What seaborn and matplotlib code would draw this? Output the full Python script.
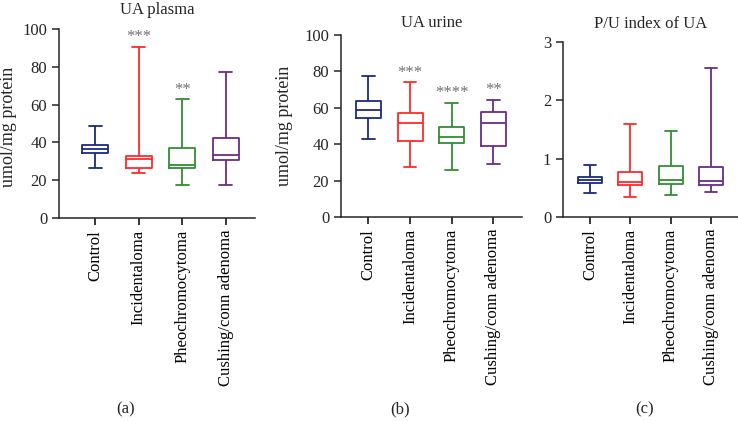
import numpy as np
import pandas as pd
import seaborn as sns
import matplotlib.pyplot as plt

groups = ["Control", "Incidentaloma", "Pheochromocytoma", "Cushing/conn adenoma"]
colors = ["#1c2a7c", "#ff2a2a", "#2f8f32", "#6a2c86"]

# min, q1, median, q3, max (whiskers are min to max)
plasma = [
    [26.6, 34.4, 36.5, 38.4, 48.8],
    [23.8, 26.5, 31.2, 33.0, 90.6],
    [17.3, 26.6, 28.2, 36.9, 63.0],
    [17.3, 30.5, 33.5, 42.5, 77.4],
]
urine = [
    [42.6, 54.5, 58.7, 63.8, 77.3],
    [27.2, 41.7, 51.9, 57.4, 74.2],
    [25.6, 40.8, 44.2, 49.7, 62.7],
    [28.9, 39.1, 51.9, 57.8, 64.5],
]
pu_index = [
    [0.41, 0.58, 0.63, 0.68, 0.90],
    [0.35, 0.55, 0.60, 0.77, 1.59],
    [0.37, 0.56, 0.64, 0.88, 1.47],
    [0.43, 0.55, 0.62, 0.86, 2.56],
]
plasma_stars = ["", "***", "**", ""]
urine_stars = ["", "***", "****", "**"]
pu_stars = ["", "", "", ""]


def long_df(summary):
    rows = []
    for g, vals in zip(groups, summary):
        for v in vals:
            rows.append({"group": g, "value": v})
    return pd.DataFrame(rows)


sns.set_style("ticks")
plt.rcParams["font.family"] = ["Liberation Serif", "DejaVu Serif"]

fig = plt.figure(figsize=(7.38, 4.21), dpi=100)
W, H = 738, 421


def add_ax(left, right, top, bottom):
    return fig.add_axes([left / W, 1 - bottom / H, (right - left) / W, (bottom - top) / H])


panels = [
    dict(data=plasma, stars=plasma_stars, title="UA plasma", ylim=(0, 100), yticks=[0, 20, 40, 60, 80, 100],
         ylabel="umol/mg protein", ylab_xy=(-0.215, 0.48), box=(59, 255, 29, 218), xlim=(-0.83, 3.67), pad=11),
    dict(data=urine, stars=urine_stars, title="UA urine", ylim=(0, 100), yticks=[0, 20, 40, 60, 80, 100],
         ylabel="umol/mg protein", ylab_xy=(-0.265, 0.5), box=(341, 522, 35, 217), xlim=(-0.66, 3.69), pad=6),
    dict(data=pu_index, stars=pu_stars, title="P/U index of UA", ylim=(0, 3), yticks=[0, 1, 2, 3],
         ylabel="", ylab_xy=None, box=(563, 738, 42, 217), xlim=(-0.68, 3.68), pad=10),
]

for p in panels:
    ax = add_ax(*p["box"])
    df = long_df(p["data"])
    sns.boxplot(data=df, x="group", y="value", hue="group", order=groups, hue_order=groups,
                palette=colors, fill=False, whis=(0, 100), width=0.6, linewidth=1.3,
                showfliers=False, legend=False, ax=ax)
    for i, s in enumerate(p["stars"]):
        if s:
            top = max(p["data"][i])
            ax.annotate(s, (i, top), xytext=(0, 1), textcoords="offset points",
                        ha="center", va="bottom", fontsize=12, color="#707070")
    ax.set_xlim(*p["xlim"])
    ax.set_ylim(*p["ylim"])
    ax.set_yticks(p["yticks"])
    ax.set_title(p["title"], fontsize=12, pad=p["pad"])
    ax.set_xlabel("")
    ax.set_ylabel(p["ylabel"], fontsize=13)
    if p["ylab_xy"]:
        ax.yaxis.set_label_coords(*p["ylab_xy"])
    ax.tick_params(axis="x", labelrotation=90, labelsize=12, length=5, width=1.1, colors="black")
    ax.tick_params(axis="y", labelsize=12, length=5, width=1.1)
    sns.despine(ax=ax)
    for sp in ("left", "bottom"):
        ax.spines[sp].set_linewidth(1.1)

fig.text(126 / W, 1 - 409 / H, "(a)", ha="center", va="center", fontsize=12)
fig.text(400 / W, 1 - 409 / H, "(b)", ha="center", va="center", fontsize=12)
fig.text(645 / W, 1 - 409 / H, "(c)", ha="center", va="center", fontsize=12)

fig.savefig("out.png", dpi=100)
